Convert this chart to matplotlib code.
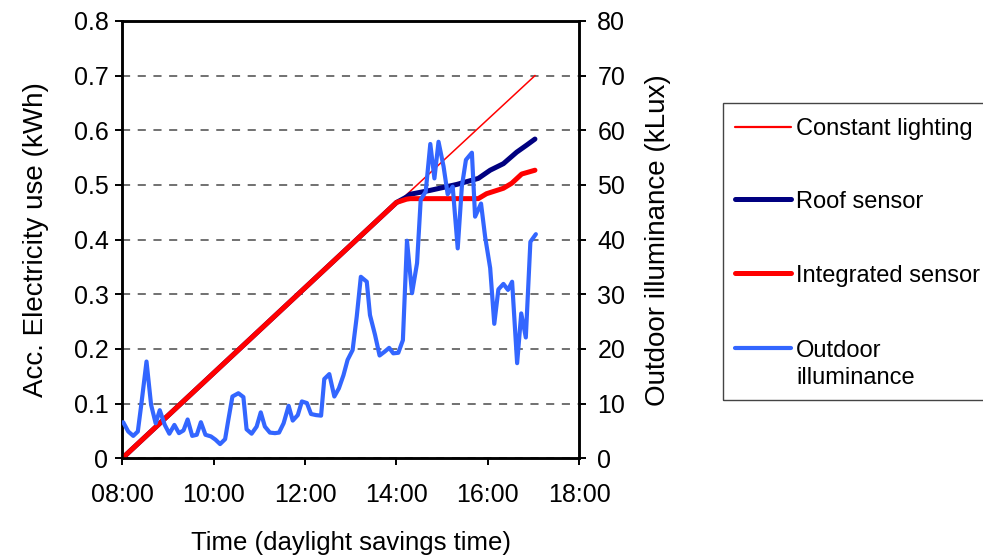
import matplotlib
matplotlib.use("Agg")
import matplotlib.pyplot as plt
from matplotlib.lines import Line2D
from matplotlib.patches import Rectangle
from matplotlib.ticker import FuncFormatter, MultipleLocator

plt.rcParams['font.family'] = ['Liberation Sans', 'DejaVu Sans']
plt.rcParams['font.size'] = 18

# Accumulated electricity use (kWh), time in hours
const_t = [8.0, 17.03]
const_kwh = [0.0, 0.70]

roof_t = [8.0, 14.0, 14.22, 14.3, 14.73, 15.32, 15.79, 16.05, 16.34, 16.63, 16.85, 17.03]
roof_kwh = [0.0, 0.468, 0.478, 0.483, 0.490, 0.501, 0.512, 0.527, 0.539, 0.560, 0.573, 0.584]

integ_t = [8.0, 14.0, 14.22, 14.3, 15.79, 15.97, 16.34, 16.52, 16.74, 17.03]
integ_kwh = [0.0, 0.468, 0.474, 0.475, 0.475, 0.484, 0.494, 0.503, 0.520, 0.527]

# Outdoor illuminance (kLux)
out_t = [8.02, 8.13, 8.24, 8.34, 8.42, 8.53, 8.63, 8.73, 8.82, 8.93,
         9.03, 9.14, 9.24, 9.34, 9.43, 9.53, 9.63, 9.72, 9.82, 9.94,
         10.04, 10.14, 10.25, 10.32, 10.41, 10.54, 10.65, 10.72, 10.83, 10.94,
         11.03, 11.12, 11.23, 11.34, 11.43, 11.53, 11.64, 11.73, 11.84, 11.93,
         12.04, 12.13, 12.24, 12.35, 12.42, 12.53, 12.64, 12.74, 12.84, 12.93,
         13.04, 13.13, 13.22, 13.35, 13.42, 13.53, 13.63, 13.74, 13.84, 13.93,
         14.04, 14.14, 14.23, 14.34, 14.45, 14.53, 14.64, 14.74, 14.83, 14.92,
         15.03, 15.12, 15.23, 15.34, 15.43, 15.52, 15.65, 15.72, 15.85, 15.94,
         16.05, 16.14, 16.23, 16.34, 16.44, 16.53, 16.64, 16.73, 16.83, 16.93,
         17.05]
out_klux = [6.6, 4.9, 4.1, 4.9, 10.1, 17.7, 9.8, 6.4, 8.8, 6.1,
            4.5, 6.1, 4.6, 5.1, 7.1, 4.1, 4.3, 6.6, 4.3, 4.0,
            3.4, 2.6, 3.5, 7.0, 11.3, 11.9, 11.2, 5.3, 4.5, 5.8,
            8.4, 5.8, 4.7, 4.6, 4.7, 6.4, 9.6, 6.9, 7.9, 10.4,
            10.1, 8.1, 7.9, 7.8, 14.5, 15.4, 11.3, 12.8, 15.2, 18.0,
            19.8, 25.9, 33.2, 32.3, 26.2, 22.6, 18.8, 19.5, 20.2, 19.2,
            19.3, 21.6, 39.8, 30.2, 35.7, 47.3, 48.8, 57.5, 51.2, 57.9,
            53.4, 48.3, 49.7, 38.4, 49.7, 54.6, 55.9, 44.2, 46.6, 40.5,
            34.8, 24.6, 30.9, 31.9, 30.8, 32.3, 17.4, 26.5, 22.1, 39.6,
            41.0]

labels = ['Constant lighting', 'Roof sensor', 'Integrated sensor', 'Outdoor\nilluminance']
colors = ['#FF0000', '#000080', '#FF0000', '#3366FF']
widths = [1.1, 3.6, 3.6, 3.0]

fig = plt.figure(figsize=(9.83, 5.58), dpi=100)
ax = fig.add_axes([0.1244, 0.1787, 0.4649, 0.7837])

ax.plot(const_t, const_kwh, color=colors[0], lw=widths[0], zorder=3)
ax.plot(roof_t, roof_kwh, color=colors[1], lw=widths[1], zorder=4, solid_capstyle='round')
ax.plot(integ_t, integ_kwh, color=colors[2], lw=widths[2], zorder=5, solid_capstyle='round')

ax.set_xlim(8, 18)
ax.set_ylim(0, 0.8)
ax.xaxis.set_major_locator(MultipleLocator(2))
ax.yaxis.set_major_locator(MultipleLocator(0.1))
ax.xaxis.set_major_formatter(FuncFormatter(lambda v, p: '%02d:00' % int(round(v))))
ax.yaxis.set_major_formatter(FuncFormatter(lambda v, p: '0' if abs(v) < 1e-9 else '%.1f' % v))
ax.grid(axis='y', linestyle=(0, (4.5, 4.2)), color='#666666', lw=1.3)
ax.set_axisbelow(True)
ax.tick_params(axis='both', direction='out', length=5, width=1.4, labelsize=18)
ax.tick_params(axis='y', pad=5)
ax.tick_params(axis='x', pad=13)
ax.set_xlabel('Time (daylight savings time)', fontsize=18.5, labelpad=17)
ax.set_ylabel('Acc. Electricity use (kWh)', fontsize=20, labelpad=18)

ax2 = ax.twinx()
ax2.plot(out_t, out_klux, color=colors[3], lw=widths[3], zorder=6, solid_capstyle='round')
ax2.set_ylim(0, 80)
ax2.yaxis.set_major_locator(MultipleLocator(10))
ax2.tick_params(axis='y', direction='out', length=5, width=1.4, labelsize=18, pad=8)
ax2.set_ylabel('Outdoor illuminance (kLux)', fontsize=20, labelpad=14)

for a in (ax, ax2):
    for s in a.spines.values():
        s.set_linewidth(1.8)
        s.set_color('black')

# legend box drawn by hand so the two-line entry lines up like the original
fig.add_artist(Rectangle((722.7 / 983, 1 - 400 / 558), 0.3, (400 - 103) / 558,
                         transform=fig.transFigure, fill=False, ec='#444444', lw=1.0))
line_y = [126.7, 199.3, 273.3, 348.3]
for lab, c, w, yy in zip(labels, colors, widths, line_y):
    yf = 1 - yy / 558
    fig.add_artist(Line2D([735 / 983, 791 / 983], [yf, yf], transform=fig.transFigure,
                          color=c, lw=w if w > 2 else 1.6, solid_capstyle='round'))
    for k, part in enumerate(lab.split('\n')):
        fig.text(796 / 983, 1 - (yy + 8.5 + 27 * k) / 558, part, ha='left', va='baseline',
                 fontsize=17)

fig.savefig('out.png', dpi=100)
